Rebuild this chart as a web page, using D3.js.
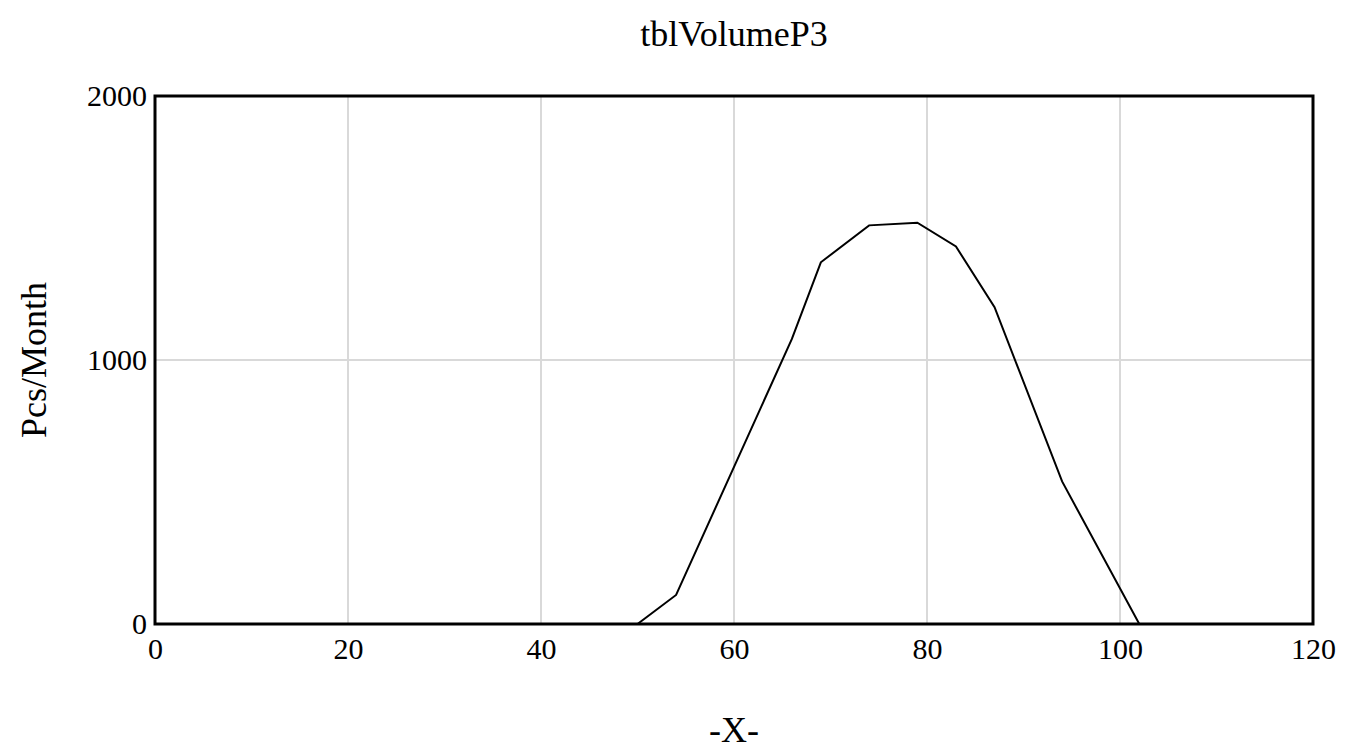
<!DOCTYPE html><html><head><meta charset="utf-8"><script src="https://cdn.jsdelivr.net/npm/d3@7"></script>
<style>body{margin:0;background:#fff}</style></head><body><svg id="c" width="1350" height="755"></svg>
<script>
const xVals=[0,50,54,66,69,74,79,83,87,94,102,120];
const yVals=[0,0,110,1080,1370,1510,1520,1430,1200,540,0,0];
const xTicks=[0,20,40,60,80,100,120];
const yTicks=[0,1000,2000];
const svg=d3.select("#c"),F="Liberation Serif, Times New Roman, serif";
const L=155,R=1313,T=96,B=624;
const x=d3.scaleLinear().domain([0,120]).range([L,R]);
const y=d3.scaleLinear().domain([0,2000]).range([B,T]);
svg.append("g").selectAll("line").data(xTicks.slice(1,-1)).join("line").attr("x1",x).attr("x2",x).attr("y1",T).attr("y2",B).attr("stroke","#d9d9d9").attr("stroke-width",2);
svg.append("g").selectAll("line").data([1000]).join("line").attr("y1",y).attr("y2",y).attr("x1",L).attr("x2",R).attr("stroke","#d9d9d9").attr("stroke-width",2);
svg.append("path").datum(xVals.map((v,i)=>[v,yVals[i]])).attr("d",d3.line().x(d=>x(d[0])).y(d=>y(d[1]))).attr("fill","none").attr("stroke","#000").attr("stroke-width",2);
svg.append("rect").attr("x",L).attr("y",T).attr("width",R-L).attr("height",B-T).attr("fill","none").attr("stroke","#000").attr("stroke-width",3);
const xa=svg.append("g").attr("transform",`translate(0,${B})`).call(d3.axisBottom(x).tickValues(xTicks).tickFormat(d3.format("d")).tickSize(0).tickPadding(14));
xa.select(".domain").remove();xa.selectAll("text").attr("font-family",F).attr("font-size",30).attr("fill","#000");
const ya=svg.append("g").attr("transform",`translate(${L},0)`).call(d3.axisLeft(y).tickValues(yTicks).tickFormat(d3.format("d")).tickSize(0).tickPadding(8));
ya.select(".domain").remove();ya.selectAll("text").attr("font-family",F).attr("font-size",30).attr("fill","#000");
svg.append("text").attr("x",734).attr("y",46).attr("text-anchor","middle").attr("font-family",F).attr("font-size",36).text("tblVolumeP3");
svg.append("text").attr("x",734).attr("y",742).attr("text-anchor","middle").attr("font-family",F).attr("font-size",36).text("-X-");
svg.append("text").attr("transform","translate(46,360) rotate(-90)").attr("text-anchor","middle").attr("font-family",F).attr("font-size",36).text("Pcs/Month");
</script></body></html>
